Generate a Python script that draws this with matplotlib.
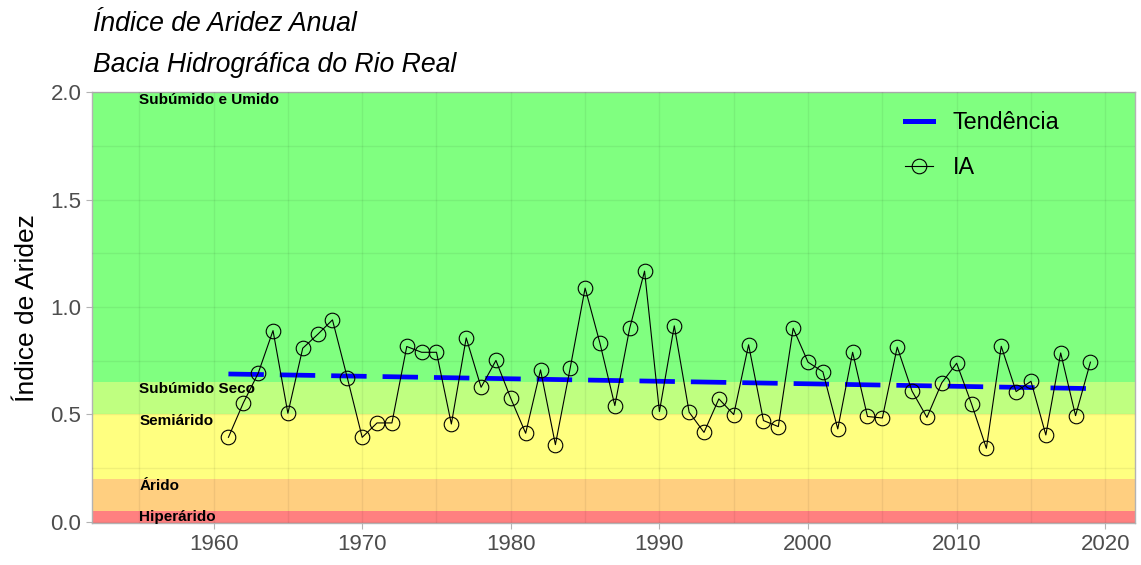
import matplotlib
matplotlib.use("Agg")
import matplotlib.pyplot as plt
from matplotlib.lines import Line2D
from matplotlib.ticker import MultipleLocator

# ---------------- data ----------------
years = list(range(1961, 2020))
ia_values = [0.393, 0.553, 0.691, 0.890, 0.505, 0.808, 0.872, 0.940, 0.670, 0.393,
             0.460, 0.460, 0.816, 0.789, 0.789, 0.455, 0.856, 0.626, 0.751, 0.574,
             0.412, 0.707, 0.359, 0.717, 1.088, 0.831, 0.541, 0.901, 1.167, 0.513,
             0.912, 0.510, 0.416, 0.572, 0.499, 0.824, 0.471, 0.443, 0.901, 0.743,
             0.698, 0.432, 0.789, 0.490, 0.483, 0.813, 0.608, 0.486, 0.647, 0.738,
             0.549, 0.342, 0.817, 0.606, 0.654, 0.404, 0.786, 0.494, 0.743]
trend_years = [1961, 2019]
trend_values = [0.688, 0.620]

band_limits = [(0.0, 0.05), (0.05, 0.20), (0.20, 0.50), (0.50, 0.65), (0.65, 2.0)]
band_colors = ["#FF8080", "#FFCF80", "#FFFF80", "#BFFF80", "#80FF80"]
band_labels = ["Hiperárido", "Árido", "Semiárido", "Subúmido Seco", "Subúmido e Umido"]
band_label_y = [0.02, 0.165, 0.468, 0.62, 1.965]

title_lines = ["Índice de Aridez Anual", "Bacia Hidrográfica do Rio Real"]
ylabel = "Índice de Aridez"
legend_labels = ["Tendência", "IA"]

# ---------------- figure ----------------
plt.rcParams['font.family'] = ['Liberation Sans', 'DejaVu Sans']
fig = plt.figure(figsize=(11.41, 5.65), dpi=100)
ax = fig.add_axes([91.7/1141, 1-523.3/565, (1135-91.7)/1141, (523.3-92.3)/565])

xmin, xmax = 1951.8, 2022.0
ax.set_xlim(xmin, xmax)
ax.set_ylim(-0.0075, 2.0)

for (lo, hi), c in zip(band_limits, band_colors):
    ax.axhspan(lo, hi, facecolor=c, edgecolor='none', zorder=0)
ax.axhspan(-0.0075, 0.0, facecolor=band_colors[0], edgecolor='none', zorder=0)

ax.xaxis.set_major_locator(MultipleLocator(10))
ax.xaxis.set_minor_locator(MultipleLocator(5))
ax.yaxis.set_major_locator(MultipleLocator(0.5))
ax.yaxis.set_minor_locator(MultipleLocator(0.25))
ax.grid(True, which='both', color='black', alpha=0.06, linewidth=1.0, zorder=1)
ax.set_axisbelow(False)

for lab, yy in zip(band_labels, band_label_y):
    ax.text(1955, yy, lab, fontsize=11, fontweight='bold', ha='left', va='center',
            color='black', zorder=5)

ax.plot(trend_years, trend_values, color='#0000FF', linewidth=3.4,
        dashes=(25.5/3.4, 11.5/3.4), solid_capstyle='butt', dash_capstyle='butt', zorder=3)
ax.plot(years, ia_values, color='black', linewidth=0.8, marker='o', markersize=10.5,
        markerfacecolor='none', markeredgecolor='black', markeredgewidth=0.8, zorder=4)

for s in ax.spines.values():
    s.set_color('#B3B3B3')
    s.set_linewidth(1.0)

ax.tick_params(axis='both', which='major', labelsize=16, labelcolor='#4D4D4D',
               color='#B3B3B3', length=4.5, width=0.8, pad=3)
ax.tick_params(axis='both', which='minor', length=0)
ax.set_yticks([0, 0.5, 1.0, 1.5, 2.0])
ax.set_yticklabels(["0.0", "0.5", "1.0", "1.5", "2.0"])
ax.set_xticks([1960, 1970, 1980, 1990, 2000, 2010, 2020])

ax.set_ylabel(ylabel, fontsize=19, color='black', labelpad=8)

fig.text(93/1141, 1-24/565, title_lines[0], fontsize=19.2, style='italic', ha='left', va='center')
fig.text(93/1141, 1-65/565, title_lines[1], fontsize=19.2, style='italic', ha='left', va='center')

handles = [Line2D([0], [0], color='#0000FF', linewidth=3.6),
           Line2D([0], [0], color='black', linewidth=0.8, marker='o', markersize=10.5,
                  markerfacecolor='none', markeredgewidth=0.8)]
leg = ax.legend(handles, legend_labels, loc='upper left', fontsize=16.8,
                bbox_to_anchor=(905/1141, 1-111/565), bbox_transform=fig.transFigure,
                frameon=False, borderpad=0, borderaxespad=0, handlelength=1.22,
                handletextpad=0.83, labelspacing=0.95)

fig.savefig("out.png", dpi=100)
